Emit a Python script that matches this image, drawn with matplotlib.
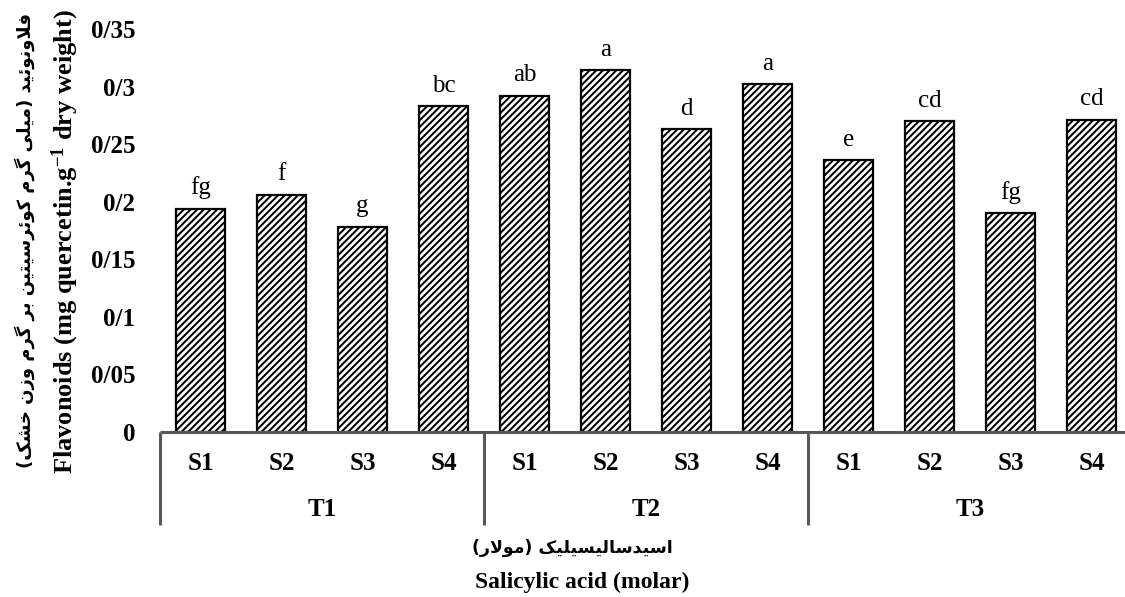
import matplotlib
matplotlib.use("Agg")
import matplotlib.pyplot as plt
import numpy as np

# data
groups = ["T1", "T2", "T3"]
levels = ["S1", "S2", "S3", "S4"]
flavonoids = [0.194, 0.206, 0.178, 0.283,
              0.292, 0.314, 0.263, 0.302,
              0.236, 0.270, 0.190, 0.271]
letters = ["fg", "f", "g", "bc",
           "ab", "a", "d", "a",
           "e", "cd", "fg", "cd"]
yticks = [0, 0.05, 0.1, 0.15, 0.2, 0.25, 0.3, 0.35]
ytick_labels = ["0", "0/05", "0/1", "0/15", "0/2", "0/25", "0/3", "0/35"]

ylabel_fa = "فلاونوئید (میلی گرم کوئرسیتین بر گرم وزن خشک)"
ylabel_en = "Flavonoids (mg quercetin.g$^{-1}$ dry weight)"
xlabel_fa = "اسیدسالیسیلیک (مولار)"
xlabel_en = "Salicylic acid (molar)"

# --- minimal Persian shaping (presentation forms + visual order) ---
FORMS = {
    "ا": ("\ufe8d", "\ufe8e"),
    "د": ("\ufea9", "\ufeaa"),
    "ر": ("\ufead", "\ufeae"),
    "ز": ("\ufeaf", "\ufeb0"),
    "و": ("\ufeed", "\ufeee"),
    "ب": ("\ufe8f", "\ufe90", "\ufe91", "\ufe92"),
    "ت": ("\ufe95", "\ufe96", "\ufe97", "\ufe98"),
    "خ": ("\ufea5", "\ufea6", "\ufea7", "\ufea8"),
    "س": ("\ufeb1", "\ufeb2", "\ufeb3", "\ufeb4"),
    "ش": ("\ufeb5", "\ufeb6", "\ufeb7", "\ufeb8"),
    "ف": ("\ufed1", "\ufed2", "\ufed3", "\ufed4"),
    "ل": ("\ufedd", "\ufede", "\ufedf", "\ufee0"),
    "م": ("\ufee1", "\ufee2", "\ufee3", "\ufee4"),
    "ن": ("\ufee5", "\ufee6", "\ufee7", "\ufee8"),
    "ئ": ("\ufe89", "\ufe8a", "\ufe8b", "\ufe8c"),
    "ی": ("\ufbfc", "\ufbfd", "\ufbfe", "\ufbff"),
    "ک": ("\ufb8e", "\ufb8f", "\ufb90", "\ufb91"),
    "گ": ("\ufb92", "\ufb93", "\ufb94", "\ufb95"),
}
DUAL = {c for c, f in FORMS.items() if len(f) == 4}


def shape_fa(s):
    out = []
    i = 0
    while i < len(s):
        c = s[i]
        prev = s[i - 1] if i > 0 else ""
        nxt = s[i + 1] if i + 1 < len(s) else ""
        if c == "ل" and nxt == "ا":
            out.append("\ufefc" if prev in DUAL else "\ufefb")
            i += 2
            continue
        if c in FORMS:
            f = FORMS[c]
            a = prev in DUAL
            b = c in DUAL and nxt in FORMS
            if len(f) == 2:
                out.append(f[1] if a else f[0])
            else:
                out.append(f[3] if a and b else f[1] if a else f[2] if b else f[0])
        else:
            out.append(c)
        i += 1
    vis = "".join(reversed(out))
    return vis.translate(str.maketrans("()", ")("))


plt.rcParams["font.family"] = ["Liberation Serif", "DejaVu Serif"]
plt.rcParams["mathtext.fontset"] = "custom"
plt.rcParams["mathtext.rm"] = "Liberation Serif:bold"
plt.rcParams["mathtext.it"] = "Liberation Serif:bold"
plt.rcParams["mathtext.bf"] = "Liberation Serif:bold"
plt.rcParams["hatch.linewidth"] = 1.45

W, H = 1125, 597
fig = plt.figure(figsize=(W / 100, H / 100), dpi=100)
ax = fig.add_axes([160 / W, 1 - 432 / H, (W - 160) / W, (432 - 29) / H])

n = len(flavonoids)
x = np.arange(n)
ax.bar(x, flavonoids, width=0.61, color="white", edgecolor="black",
       linewidth=1.6, hatch="/////", zorder=2)

for xi, v, lab in zip(x, flavonoids, letters):
    ax.annotate(lab, (xi, v), xytext=(0, 10.5), textcoords="offset points",
                ha="center", va="baseline", fontsize=18)

ax.set_xlim(-0.5, -0.5 + (W - 160) / 81)
ax.set_ylim(0, 0.35)
ax.set_yticks(yticks)
ax.set_yticklabels(ytick_labels, fontsize=18, fontweight="bold")
ax.tick_params(axis="y", length=0, pad=18)
ax.set_xticks([])
for s in ax.spines.values():
    s.set_visible(False)

# category axis: baseline, group separators, level and group labels
tr = ax.get_xaxis_transform()
axis_col = "#595959"
ax.plot([-0.5, n], [0, 0], color=axis_col, lw=2.2, transform=tr,
        clip_on=False, solid_capstyle="butt", zorder=3)
for g in range(len(groups) + 1):
    xs = g * len(levels) - 0.5
    ax.plot([xs, xs], [0, -93 / 403], color=axis_col, lw=2.2, transform=tr,
            clip_on=False, solid_capstyle="butt", zorder=3)
for i in range(n):
    ax.text(i, -31 / 403, levels[i % len(levels)], transform=tr, ha="center",
            va="center", fontsize=18, fontweight="bold")
for g, name in enumerate(groups):
    ax.text(g * len(levels) + 1.5, -78 / 403, name, transform=tr, ha="center",
            va="center", fontsize=18, fontweight="bold")

fig.text(65 / W, 1 - 242 / H, ylabel_en, rotation=90, ha="center",
         va="center", fontsize=19, fontweight="bold")
fig.text(25 / W, 1 - 240 / H, shape_fa(ylabel_fa), rotation=90, ha="center",
         va="center", fontsize=13, fontweight="bold", family=["DejaVu Sans"])
fig.text(572 / W, 1 - 548 / H, shape_fa(xlabel_fa), ha="center",
         va="center", fontsize=12.5, fontweight="bold", family=["DejaVu Sans"])
fig.text(582 / W, 1 - 582 / H, xlabel_en, ha="center", va="center",
         fontsize=17, fontweight="bold")

fig.savefig("out.png", dpi=100)
